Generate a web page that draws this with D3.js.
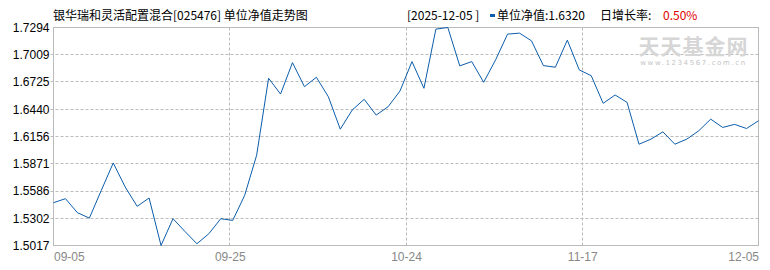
<!DOCTYPE html>
<html>
  <head>
    <meta charset="utf-8">
    <title></title>
  </head>
  <style>
  body{
      margin: 0;
      background: #fff;
      font-family: "Noto Sans CJK SC", sans-serif;
    }
  .grid line{
    stroke: #bbb;
    stroke-dasharray: 3,2;
  }
  .axis-y text{
    font-size: 12px;
    fill: #000;
  }
  .axis-x text{
    font-size: 12px;
    fill: #888;
  }
  </style>
  <script src="https://d3js.org/d3.v7.min.js"></script>
  <body>
    <script>
    // 交易日
    var dates = ["09-05","09-08","09-09","09-10","09-11","09-12","09-15","09-16","09-17","09-18",
                 "09-19","09-22","09-23","09-24","09-25","09-26","09-29","09-30","10-09","10-10",
                 "10-13","10-14","10-15","10-16","10-17","10-20","10-21","10-22","10-23","10-24",
                 "10-27","10-28","10-29","10-30","10-31","11-03","11-04","11-05","11-06","11-07",
                 "11-10","11-11","11-12","11-13","11-14","11-17","11-18","11-19","11-20","11-21",
                 "11-24","11-25","11-26","11-27","11-28","12-01","12-02","12-03","12-04","12-05"]
    // 单位净值
    var nav = [1.5464,1.5506,1.5360,1.5303,1.5593,1.5879,1.5628,1.5426,1.5513,1.5017,
               1.5297,1.5164,1.5035,1.5140,1.5297,1.5279,1.5541,1.5960,1.6764,1.6599,
               1.6927,1.6676,1.6774,1.6571,1.6232,1.6432,1.6544,1.6379,1.6466,1.6631,
               1.6938,1.6659,1.7277,1.7294,1.6893,1.6938,1.6722,1.6956,1.7225,1.7235,
               1.7155,1.6896,1.6879,1.7162,1.6851,1.6791,1.6502,1.6589,1.6512,1.6075,
               1.6128,1.6204,1.6075,1.6128,1.6215,1.6337,1.6250,1.6282,1.6239,1.6320]
    var yTicks = ["1.5017","1.5302","1.5586","1.5871","1.6156","1.6440","1.6725","1.7009","1.7294"]
    var xTicks = ["09-05","09-25","10-24","11-17","12-05"]

    var title = "银华瑞和灵活配置混合[025476] 单位净值走势图"
    var lastDate = "[2025-12-05 ]"
    var lastNav = "单位净值:1.6320"
    var rateLabel = "日增长率:"
    var rate = "0.50%"

    var padding = { left:53.5, top:27.5, right:11.5, bottom:24.5 }
    var W = 770, H = 270
    var width = W - padding.left - padding.right
    var height = H - padding.top - padding.bottom

    var svg = d3.select("body")
                .append("svg")
                .attr("width", W)
                .attr("height", H)

    var g = svg.append("g")
               .attr("transform", "translate(" + padding.left + "," + padding.top + ")")

    var yScale = d3.scaleLinear()
                   .domain([+yTicks[0], +yTicks[yTicks.length - 1]])
                   .range([height, 0])

    var xScale = d3.scaleLinear()
                   .domain([0, dates.length - 1])
                   .range([0, width])

    // 横向网格
    g.append("g")
     .attr("class", "grid")
     .selectAll("line")
     .data(yTicks.slice(1, -1))
     .enter()
     .append("line")
     .attr("x1", -3)
     .attr("x2", width)
     .attr("y1", function(d){ return Math.round(yScale(+d)) })
     .attr("y2", function(d){ return Math.round(yScale(+d)) })

    // 纵向网格，等分四段
    var xPos = xTicks.map(function(d, i){ return (dates.length - 1) * i / (xTicks.length - 1) })
    g.append("g")
     .attr("class", "grid")
     .selectAll("line")
     .data(xPos.slice(1, -1))
     .enter()
     .append("line")
     .attr("x1", function(d){ return Math.round(xScale(d)) })
     .attr("x2", function(d){ return Math.round(xScale(d)) })
     .attr("y1", 0)
     .attr("y2", height)

    // 水印
    var wm = g.append("g").attr("transform", "translate(" + (width - 65) + ",0)")
    wm.append("text")
      .attr("y", 26)
      .attr("text-anchor", "middle")
      .attr("font-size", "21px")
      .attr("font-weight", "bold")
      .attr("fill", "#d6d6d6")
      .attr("letter-spacing", "1px")
      .text("天天基金网")
    wm.append("text")
      .attr("y", 37)
      .attr("text-anchor", "middle")
      .attr("font-size", "7px")
      .attr("font-family", "DejaVu Sans")
      .attr("fill", "#c4c4c4")
      .attr("letter-spacing", "1.6px")
      .text("www.1234567.com.cn")

    // 边框
    g.append("rect")
     .attr("width", width)
     .attr("height", height)
     .attr("fill", "none")
     .attr("stroke", "#bbb")

    // y轴
    var yAxis = d3.axisLeft(yScale)
                  .tickValues(yTicks.map(Number))
                  .tickFormat(function(d, i){ return yTicks[i] })
                  .tickSize(0)
                  .tickPadding(4)
    g.append("g")
     .attr("class", "axis-y")
     .call(yAxis)
     .call(function(s){ s.select(".domain").remove() })

    // x轴
    var xAxis = d3.axisBottom(xScale)
                  .tickValues(xPos)
                  .tickFormat(function(d, i){ return xTicks[i] })
                  .tickSize(0)
                  .tickPadding(7)
    g.append("g")
     .attr("class", "axis-x")
     .attr("transform", "translate(0," + height + ")")
     .call(xAxis)
     .call(function(s){
        s.select(".domain").remove()
        s.selectAll(".tick text")
         .attr("text-anchor", function(d, i){
            return i == 0 ? "start" : (i == xTicks.length - 1 ? "end" : "middle")
         })
     })

    // 净值线
    var line = d3.line()
                 .x(function(d, i){ return xScale(i) })
                 .y(function(d){ return yScale(d) })
    g.append("path")
     .datum(nav)
     .attr("fill", "none")
     .attr("stroke", "#0c5dab")
     .attr("stroke-width", 1)
     .attr("d", line)

    // 标题与图例
    var head = svg.append("g").attr("font-size", "12px")
    head.append("text").attr("x", 53).attr("y", 20).attr("fill", "#000").text(title)
    head.append("text").attr("x", 407).attr("y", 20).attr("fill", "#000").text(lastDate)
    head.append("rect").attr("x", 490).attr("y", 14).attr("width", 5).attr("height", 3).attr("fill", "#0c5dab")
    head.append("text").attr("x", 497).attr("y", 20).attr("fill", "#000").text(lastNav)
    head.append("text").attr("x", 600).attr("y", 20).attr("fill", "#000").text(rateLabel)
    head.append("text").attr("x", 663).attr("y", 20).attr("fill", "#e00000").text(rate)
    </script>
  </body>
</html>
